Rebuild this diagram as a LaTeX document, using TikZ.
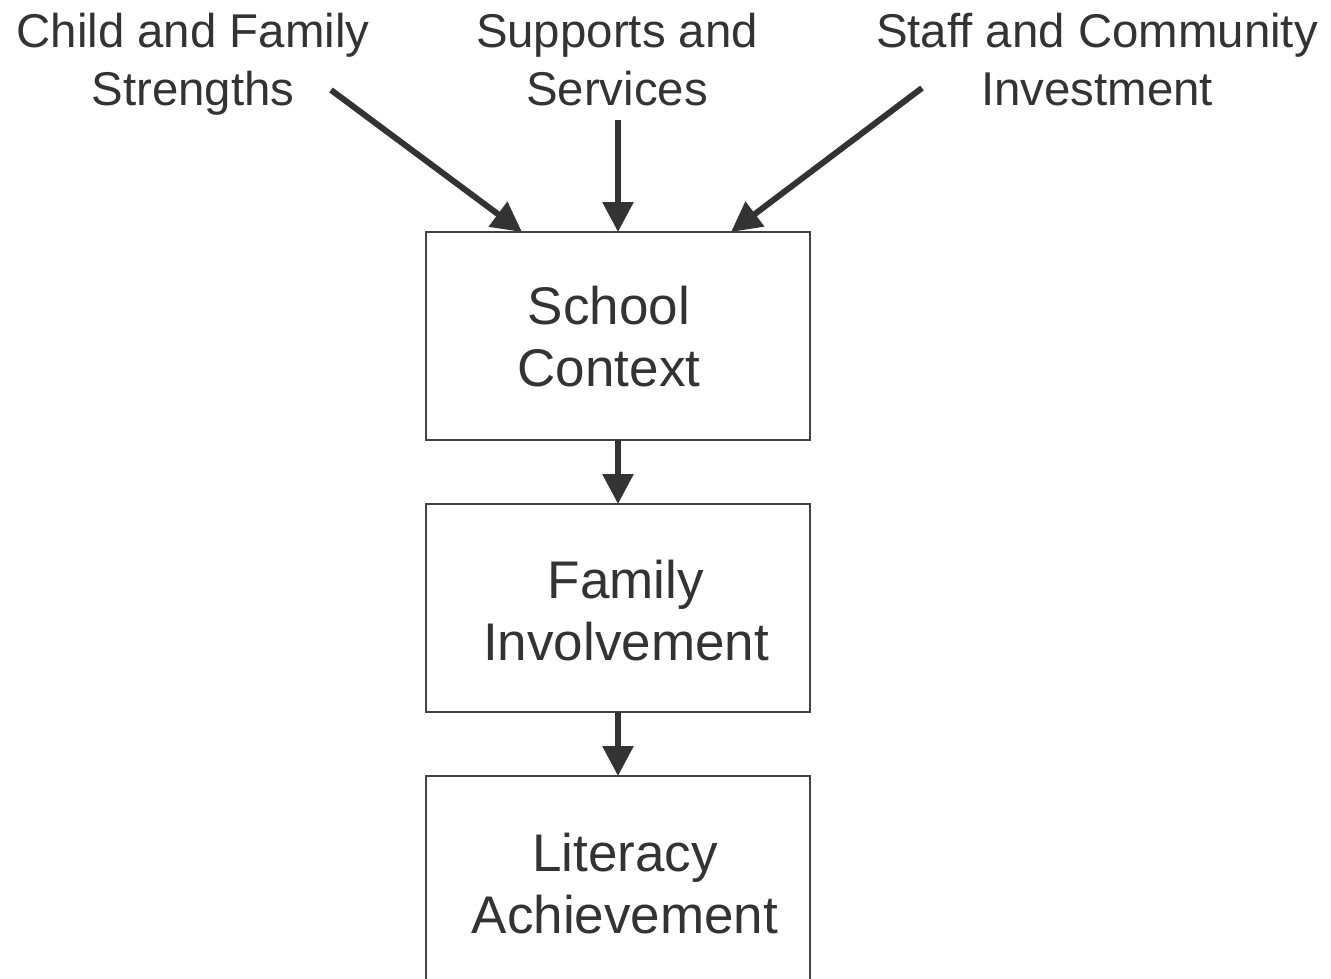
\documentclass[tikz,border=0pt]{standalone}
\usepackage{fontspec}
\setmainfont{Liberation Sans}
\usetikzlibrary{arrows.meta,calc}
\definecolor{ink}{HTML}{333333}
\definecolor{edge}{HTML}{444444}
\begin{document}
\begin{tikzpicture}[x=1pt,y=-1pt,
  box/.style={draw=edge,line width=2.2pt,minimum width=384pt,minimum height=208pt,inner sep=0pt,outer sep=0pt},
  boxtext/.style={text=ink,align=center,inner sep=0pt,font=\fontsize{53}{62}\selectfont},
  toplabel/.style={text=ink,align=center,inner sep=0pt,anchor=north,font=\fontsize{47.4}{58}\selectfont},
  flow/.style={draw=ink,line width=6pt,-{Triangle[length=30pt,width=30pt]}}]
\useasboundingbox (0,0) rectangle (1331,979);
\fill[white] (0,0) rectangle (1331,979);
\begin{scope}
\clip (0,0) rectangle (1331,979);
% top labels
\node[toplabel] (cf) at (193,13) {Child and Family\\Strengths};
\node[toplabel] (ss) at (617,13) {Supports and\\Services};
\node[toplabel] (sc2) at (1097,13) {Staff and Community\\Investment};
% boxes
\node[box] (sc) at (618,336) {};
\node[box] (fi) at (618,608) {};
\node[box] (la) at (618,880) {};
\node[boxtext] (sct) at ($(sc.center)+(-9,1)$) {School\\Context};
\node[boxtext] (fit) at ($(fi.center)+(8,3)$) {Family\\Involvement};
\node[boxtext] (lat) at ($(la.center)+(7,4)$) {Literacy\\Achievement};
% arrow start points
\coordinate (cfs) at (331,90);
\coordinate (sss) at (618,120);
\coordinate (scs) at (922,88);
\draw[flow] (cfs) -- ($(sc.north west)+(96,0)$);
\draw[flow] (sss) -- (sc.north);
\draw[flow] (scs) -- ($(sc.north west)+(305,0)$);
\draw[flow] (sc.south) -- (fi.north);
\draw[flow] (fi.south) -- (la.north);
\end{scope}
\end{tikzpicture}
\end{document}
